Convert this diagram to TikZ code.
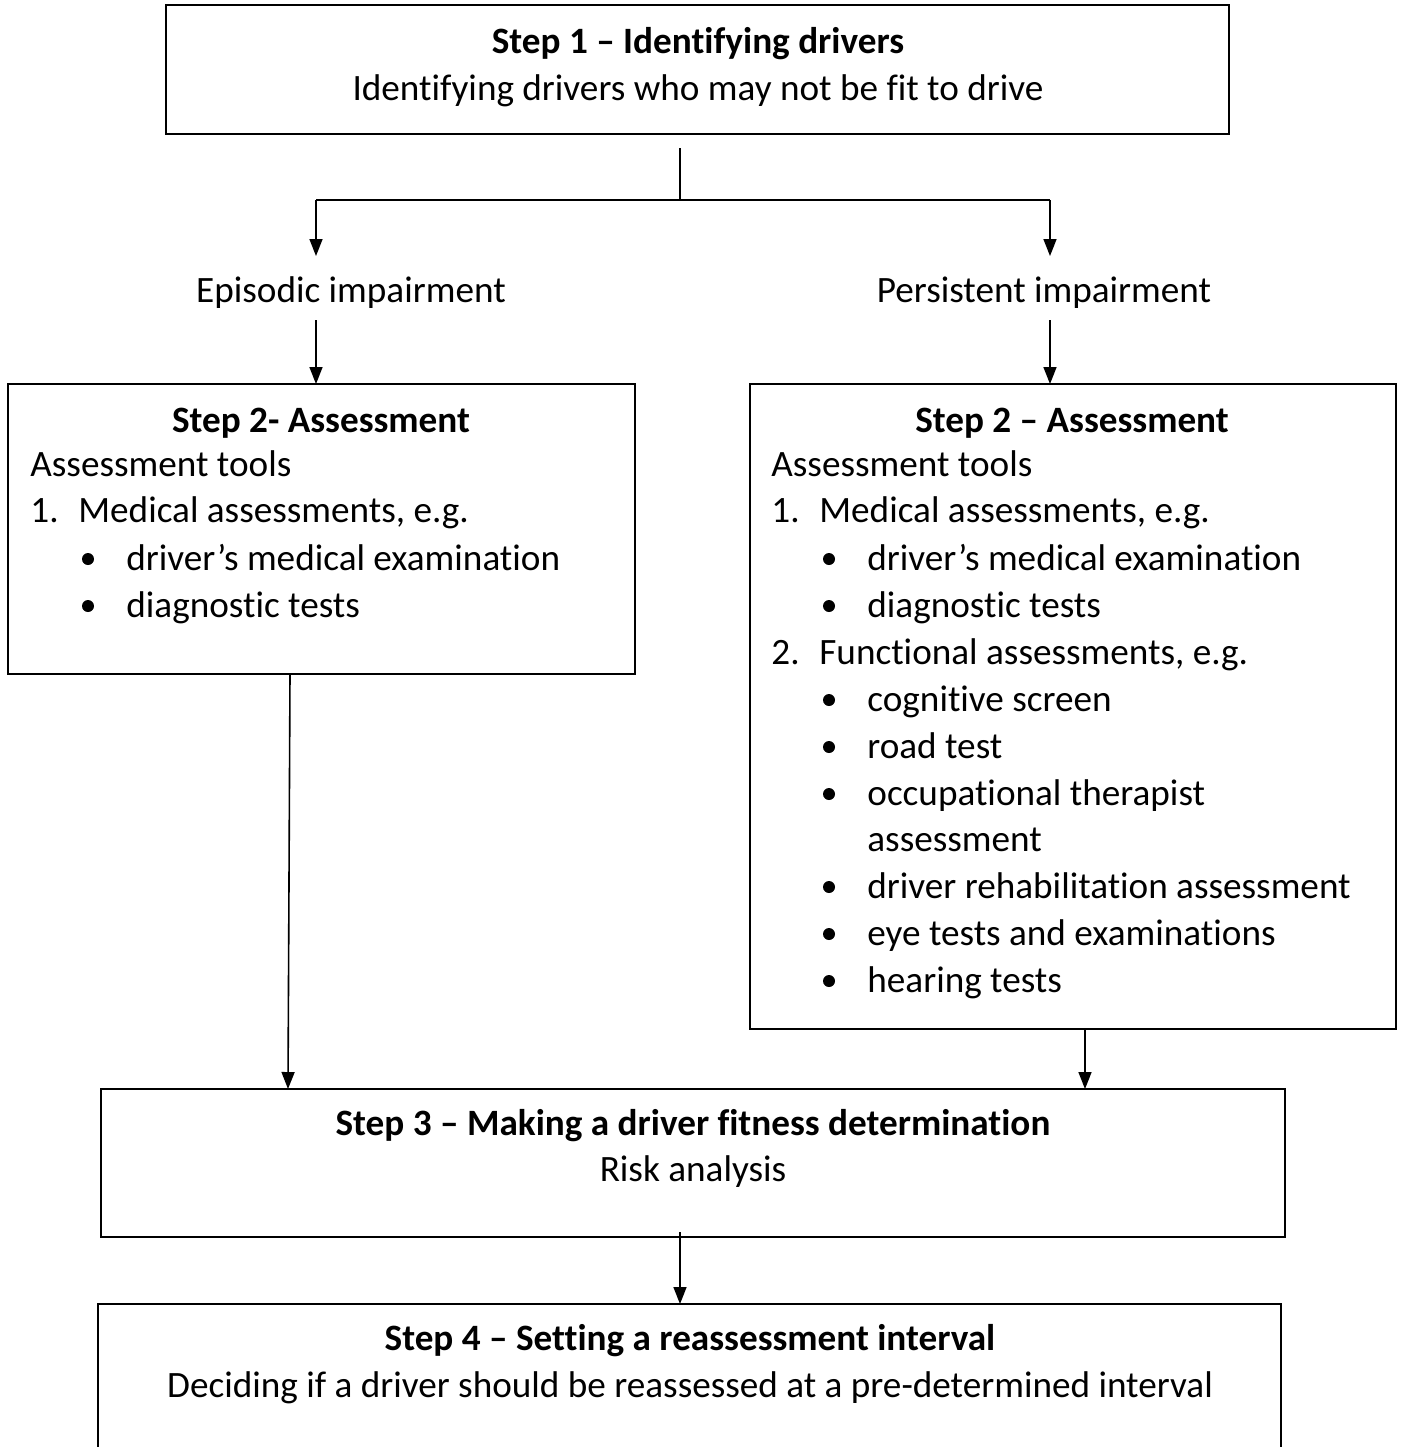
\documentclass[tikz,border=0pt]{standalone}
\usepackage{fontspec}
\setmainfont{Carlito}[Ligatures=CommonOff]
\usetikzlibrary{fit,arrows.meta}
\begin{document}
\begin{tikzpicture}[x=0.5pt,y=-0.5pt,
  box/.style={draw,line width=1pt,inner sep=0pt},
  txt/.style={inner sep=0pt,font=\fontsize{18.6}{22}\selectfont},
  ttl/.style={txt,font=\fontsize{18.6}{22}\selectfont\bfseries},
  ln/.style={line width=0.8pt},
  arr/.style={line width=0.8pt,-{Triangle[length=8.5pt,width=6.5pt]}},
  dot/.style={circle,fill=black,inner sep=0pt,minimum size=6pt}]
\useasboundingbox (0,0) rectangle (1401,1447);
% boxes
\node[box,fit={(166,5)(1229,134)}] (b1) {};
\node[box,fit={(8,384)(635,674)}] (b2l) {};
\node[box,fit={(750,384)(1396,1029)}] (b2r) {};
\node[box,fit={(101,1089)(1285,1237)}] (b3) {};
\draw[line width=1pt] (98,1447) -- (98,1304) -- (1281,1304) -- (1281,1447);
\coordinate (b4n) at (680,1304);
% box 1 text
\node[ttl,anchor=base] (t1) at (698,53) {Step 1 – Identifying drivers};
\node[txt,anchor=base] (s1) at (698,100) {Identifying drivers who may not be fit to drive};
% branch
\coordinate (c0) at (680,148);
\coordinate (cm) at (680,200);
\coordinate (cl) at (316,200);
\coordinate (cr) at (1050,200);
\coordinate (al) at (316,256);
\coordinate (ar) at (1050,256);
\draw[ln] (c0) -- (cm);
\draw[ln] (cl) -- (cr);
\draw[arr] (cl) -- (al);
\draw[arr] (cr) -- (ar);
\node[txt,anchor=base] (epi) at (351,302) {Episodic impairment};
\node[txt,anchor=base] (per) at (1044,302) {Persistent impairment};
\coordinate (el) at (316,320);
\coordinate (er) at (1050,320);
\draw[arr] (el) -- (316,384);
\draw[arr] (er) -- (1050,384);
% left box
\node[ttl,anchor=base] (t2l) at (321,432) {Step 2- Assessment};
\node[txt,anchor=base west] (l1) at (30,476) {Assessment tools};
\node[txt,anchor=base west] (l2n) at (30,522) {1.};
\node[txt,anchor=base west] (l2) at (78,522) {Medical assessments, e.g.};
\node[dot] (ld1) at (88,559) {};
\node[txt,anchor=base west] (l3) at (126,570) {driver’s medical examination};
\node[dot] (ld2) at (88,606) {};
\node[txt,anchor=base west] (l4) at (126,617) {diagnostic tests};
% right box
\node[ttl,anchor=base] (t2r) at (1072,432) {Step 2 – Assessment};
\node[txt,anchor=base west] (r1) at (771,476) {Assessment tools};
\node[txt,anchor=base west] (r2n) at (771,522) {1.};
\node[txt,anchor=base west] (r2) at (819,522) {Medical assessments, e.g.};
\node[dot] (rd1) at (829,559) {};
\node[txt,anchor=base west] (r3) at (867,570) {driver’s medical examination};
\node[dot] (rd2) at (829,606) {};
\node[txt,anchor=base west] (r4) at (867,617) {diagnostic tests};
\node[txt,anchor=base west] (r5n) at (771,664) {2.};
\node[txt,anchor=base west] (r5) at (819,664) {Functional assessments, e.g.};
\node[dot] (rd3) at (829,700) {};
\node[txt,anchor=base west] (r6) at (867,711) {cognitive screen};
\node[dot] (rd4) at (829,747) {};
\node[txt,anchor=base west] (r7) at (867,758) {road test};
\node[dot] (rd5) at (829,794) {};
\node[txt,anchor=base west] (r8) at (867,805) {occupational therapist};
\node[txt,anchor=base west] (r9) at (867,851) {assessment};
\node[dot] (rd6) at (829,887) {};
\node[txt,anchor=base west] (r10) at (867,898) {driver rehabilitation assessment};
\node[dot] (rd7) at (829,934) {};
\node[txt,anchor=base west] (r11) at (867,945) {eye tests and examinations};
\node[dot] (rd8) at (829,981) {};
\node[txt,anchor=base west] (r12) at (867,992) {hearing tests};
% to step 3
\coordinate (lb) at (290,674);
\coordinate (l3a) at (288,1089);
\draw[arr] (lb) -- (l3a);
\coordinate (rb) at (1085,1029);
\draw[arr] (rb) -- (1085,1089);
% box 3
\node[ttl,anchor=base] (t3) at (693,1135) {Step 3 – Making a driver fitness determination};
\node[txt,anchor=base] (s3) at (693,1181) {Risk analysis};
\coordinate (b3s) at (680,1232);
\draw[arr] (b3s) -- (b4n);
% box 4
\node[ttl,anchor=base] (t4) at (690,1350) {Step 4 – Setting a reassessment interval};
\node[txt,anchor=base] (s4) at (690,1397) {Deciding if a driver should be reassessed at a pre-determined interval};
\end{tikzpicture}
\end{document}
